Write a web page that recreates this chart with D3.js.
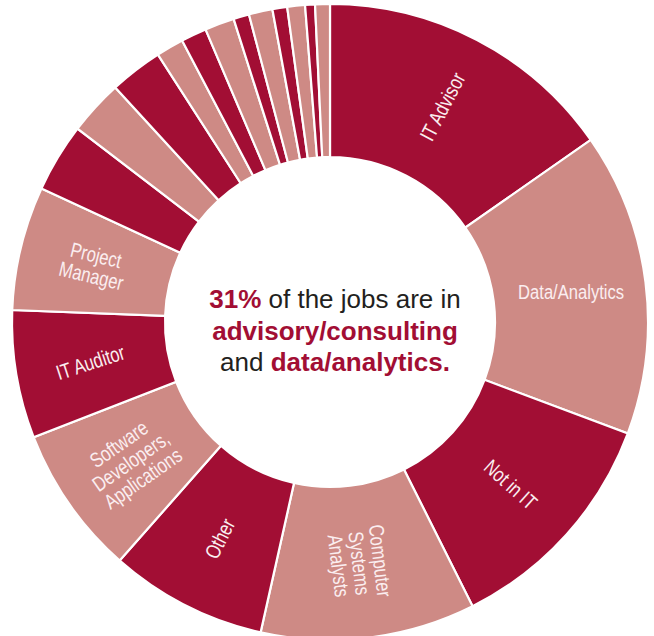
<!DOCTYPE html>
<html>
<head>
<meta charset="utf-8">
<script src="https://cdn.jsdelivr.net/npm/d3@7/dist/d3.min.js"></script>
<style>
  html, body { margin: 0; padding: 0; background: #ffffff; }
  svg { display: block; }
</style>
</head>
<body>
<svg id="chart" width="654" height="636"></svg>
<script>
// Job categories, clockwise from 12 o'clock ("\n" marks a line break in the label)
const categories = [
  "IT Advisor",
  "Data/Analytics",
  "Not in IT",
  "Computer\nSystems\nAnalysts",
  "Other",
  "Software\nDevelopers,\nApplications",
  "IT Auditor",
  "Project\nManager",
  "", "", "", "", "", "", "", "", "", "", "", ""
];

// Share of jobs (%) for each category
const shares = [
  15.3, 15.4, 11.9, 10.9, 8.0, 7.6, 6.5, 6.3,
  3.5, 2.8, 2.7, 1.4, 1.3, 1.5, 0.8, 1.2, 0.75, 0.9, 0.5, 0.75
];

// Headline in the middle of the ring: [text, emphasised?] runs per line
const headlineLines = [
  [["31%", true], [" of the jobs are in", false]],
  [["advisory/consulting", true]],
  [["and ", false], ["data/analytics.", true]]
];

const DARK = "#a20e34";
const LIGHT = "#ce8a85";

const svg = d3.select("#chart");
const cx = 330, cy = 322;
const innerR = 165, outerR = 318, labelR = 243;

const data = categories.map((name, i) => ({ name, value: shares[i], index: i }));

const pie = d3.pie()
  .sort(null)
  .value(d => d.value)
  .startAngle(0)
  .endAngle(2 * Math.PI);

const arc = d3.arc().innerRadius(innerR).outerRadius(outerR);
const labelArc = d3.arc().innerRadius(labelR).outerRadius(labelR);

const g = svg.append("g").attr("transform", `translate(${cx},${cy})`);

const arcs = pie(data);

g.selectAll("path.slice")
  .data(arcs)
  .join("path")
  .attr("class", "slice")
  .attr("d", arc)
  .attr("fill", d => d.data.index % 2 === 0 ? DARK : LIGHT)
  .attr("stroke", "#ffffff")
  .attr("stroke-width", 2.2)
  .attr("stroke-linejoin", "miter");

// Labels run along the radius; those on the left half are flipped to stay readable
const tiltOverride = { "Data/Analytics": 0, "IT Auditor": -18 };

const labelled = arcs.filter(d => d.data.name !== "");
const lineH = 21;

const lbl = g.selectAll("g.label")
  .data(labelled)
  .join("g")
  .attr("class", "label")
  .attr("transform", d => {
    const [x, y] = labelArc.centroid(d);
    const mid = (d.startAngle + d.endAngle) / 2 * 180 / Math.PI;
    let rot = mid - 90;
    if (mid > 180) rot -= 180;
    if (tiltOverride[d.data.name] !== undefined) rot = tiltOverride[d.data.name];
    // condensed face: narrow the glyphs horizontally
    return `translate(${x},${y}) rotate(${rot}) scale(0.79,1)`;
  });

lbl.each(function(d) {
  const lines = d.data.name.split("\n");
  const t = d3.select(this).append("text")
    .attr("text-anchor", "middle")
    .attr("fill", "#fbeef0")
    .attr("font-family", "'Liberation Sans', Arial, Helvetica, sans-serif")
    .attr("font-size", 21);
  lines.forEach((ln, i) => {
    t.append("tspan")
      .attr("x", 0)
      .attr("y", (i - (lines.length - 1) / 2) * lineH + 7.5)
      .text(ln);
  });
});

// Centre headline
const headline = svg.append("text")
  .attr("text-anchor", "middle")
  .attr("font-family", "'Liberation Sans', Arial, Helvetica, sans-serif")
  .attr("font-size", 26);

const baselines = [308, 340, 371];
headlineLines.forEach((runs, i) => {
  runs.forEach((r, j) => {
    const ts = headline.append("tspan")
      .attr("font-weight", r[1] ? "bold" : "normal")
      .attr("fill", r[1] ? DARK : "#231f20")
      .text(r[0]);
    if (j === 0) ts.attr("x", 335).attr("y", baselines[i]);
  });
});
</script>
</body>
</html>
